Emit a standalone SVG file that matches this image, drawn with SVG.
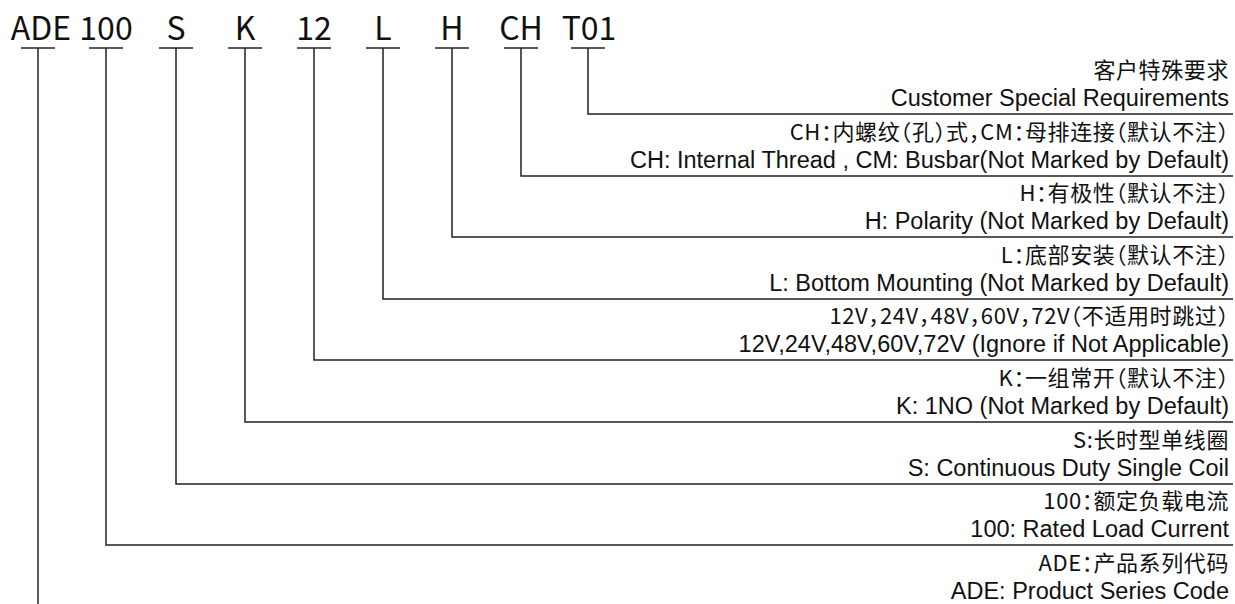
<svg xmlns="http://www.w3.org/2000/svg" width="1235" height="604" viewBox="0 0 1235 604">
<style>
.code{font-family:"Noto Sans CJK SC","Noto Sans",sans-serif;font-size:32px;fill:#111;text-anchor:middle}
.zh{font-family:"Noto Sans CJK SC","Noto Sans",sans-serif;font-size:22px;letter-spacing:0.6px;font-feature-settings:"halt";fill:#111;text-anchor:end}
.en{font-family:"Liberation Sans",Arial,sans-serif;font-size:23.5px;fill:#111;text-anchor:end}
.ln{stroke:#222;stroke-width:1.5;fill:none}
</style>
<rect width="1235" height="604" fill="#fff"/>
<g id="codes">
<g id="code-ADE"><text class="code" x="41" y="40">ADE</text><line class="ln" x1="21" y1="48" x2="55" y2="48"/></g>
<g id="code-100"><text class="code" x="106" y="40">100</text><line class="ln" x1="89" y1="48" x2="123" y2="48"/></g>
<g id="code-S"><text class="code" x="176" y="40">S</text><line class="ln" x1="159" y1="48" x2="193" y2="48"/></g>
<g id="code-K"><text class="code" x="245" y="40">K</text><line class="ln" x1="228" y1="48" x2="262" y2="48"/></g>
<g id="code-12"><text class="code" x="314" y="40">12</text><line class="ln" x1="297" y1="48" x2="331" y2="48"/></g>
<g id="code-L"><text class="code" x="383" y="40">L</text><line class="ln" x1="366" y1="48" x2="400" y2="48"/></g>
<g id="code-H"><text class="code" x="452" y="40">H</text><line class="ln" x1="435" y1="48" x2="469" y2="48"/></g>
<g id="code-CH"><text class="code" x="521" y="40">CH</text><line class="ln" x1="504" y1="48" x2="538" y2="48"/></g>
<g id="code-T01"><text class="code" x="589" y="40">T01</text><line class="ln" x1="571" y1="48" x2="605" y2="48"/></g>
</g>
<g id="connectors">
<polyline class="ln" points="588,48 588,114 1233,114"/>
<polyline class="ln" points="521,48 521,176 1233,176"/>
<polyline class="ln" points="452,48 452,237 1233,237"/>
<polyline class="ln" points="383,48 383,299 1233,299"/>
<polyline class="ln" points="314,48 314,360 1233,360"/>
<polyline class="ln" points="245,48 245,422 1233,422"/>
<polyline class="ln" points="176,48 176,484 1233,484"/>
<polyline class="ln" points="106,48 106,545 1233,545"/>
<line class="ln" x1="38" y1="48" x2="38" y2="604"/>
</g>
<g id="label-T01"><text class="zh" x="1229" y="78">客户特殊要求</text><text class="en" x="1229" y="106">Customer Special Requirements</text></g>
<g id="label-CH"><text class="zh" x="1229" y="140">CH：内螺纹（孔）式，CM：母排连接（默认不注）</text><text class="en" x="1229" y="168">CH: Internal Thread , CM: Busbar(Not Marked by Default)</text></g>
<g id="label-H"><text class="zh" x="1229" y="201">H：有极性（默认不注）</text><text class="en" x="1229" y="229">H: Polarity (Not Marked by Default)</text></g>
<g id="label-L"><text class="zh" x="1229" y="263">L：底部安装（默认不注）</text><text class="en" x="1229" y="291">L: Bottom Mounting (Not Marked by Default)</text></g>
<g id="label-12"><text class="zh" x="1229" y="324">12V，24V，48V，60V，72V（不适用时跳过）</text><text class="en" x="1229" y="352">12V,24V,48V,60V,72V (Ignore if Not Applicable)</text></g>
<g id="label-K"><text class="zh" x="1229" y="386">K：一组常开（默认不注）</text><text class="en" x="1229" y="414">K: 1NO (Not Marked by Default)</text></g>
<g id="label-S"><text class="zh" x="1229" y="448">S:长时型单线圈</text><text class="en" x="1229" y="476">S: Continuous Duty Single Coil</text></g>
<g id="label-100"><text class="zh" x="1229" y="509">100：额定负载电流</text><text class="en" x="1229" y="537">100: Rated Load Current</text></g>
<g id="label-ADE"><text class="zh" x="1229" y="571">ADE：产品系列代码</text><text class="en" x="1229" y="599">ADE: Product Series Code</text></g>
</svg>
